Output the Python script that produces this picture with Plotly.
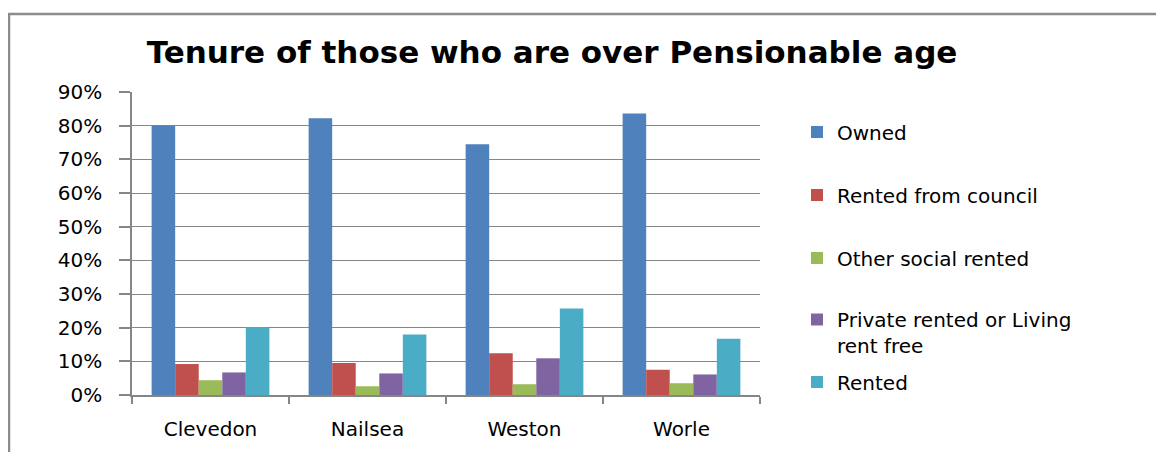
import plotly.graph_objects as go

categories = ["Clevedon", "Nailsea", "Weston", "Worle"]
series_names = ["Owned", "Rented from council", "Other social rented",
                "Private rented or Living<br>rent free", "Rented"]
owned = [0.800, 0.822, 0.745, 0.836]
council = [0.092, 0.095, 0.124, 0.075]
other_social = [0.044, 0.026, 0.032, 0.035]
private_rent = [0.067, 0.064, 0.109, 0.061]
rented = [0.201, 0.180, 0.257, 0.167]
y_ticks = [0, 0.1, 0.2, 0.3, 0.4, 0.5, 0.6, 0.7, 0.8, 0.9]

series_values = [owned, council, other_social, private_rent, rented]
colors = ["#4F81BD", "#C0504D", "#9BBB59", "#8064A2", "#4BACC6"]

W, H = 1164, 452
OFF = 8  # page body margin offset compensation
L, R, T, B = 132 - OFF, 760 - OFF, 92 - OFF, 395 - OFF

legend_centers = [132, 195, 258, 332.5, 382]
legend_keys = ["legend", "legend2", "legend3", "legend4", "legend5"]

fig = go.Figure()
for name, vals, col, lk in zip(series_names, series_values, colors, legend_keys):
    fig.add_trace(go.Bar(x=categories, y=vals, name=name, legend=lk,
                         marker=dict(color=col, line=dict(width=0))))

FONT = "DejaVu Sans"
legend_layout = {}
for lk, cy in zip(legend_keys, legend_centers):
    legend_layout[lk] = dict(
        x=(797 - OFF) / W, xref="container", xanchor="left",
        y=1 - (cy - OFF) / H, yref="container", yanchor="middle",
        font=dict(family=FONT, size=20, color="#000000"),
        bgcolor="rgba(0,0,0,0)", borderwidth=0, valign="top",
        itemwidth=30,
    )

fig.update_layout(
    width=W, height=H,
    margin=dict(l=L, r=W - R, t=T, b=H - B, pad=0),
    paper_bgcolor="white", plot_bgcolor="white",
    barmode="group", bargap=0.25, bargroupgap=0,
    showlegend=True,
    title=dict(text="<b>Tenure of those who are over Pensionable age</b>",
               x=(552 - OFF) / W, xref="container", xanchor="center",
               y=1 - (52 - OFF) / H, yref="container", yanchor="middle",
               font=dict(family=FONT, size=31, color="#000000")),
    font=dict(family=FONT, size=20, color="#000000"),
    xaxis=dict(showgrid=False, showline=True, linecolor="#868686", linewidth=1.5,
               ticks="outside", tickson="boundaries", ticklen=7, tickcolor="#868686",
               tickwidth=1.5, tickfont=dict(family=FONT, size=20, color="#000000"),
               ticklabelstandoff=15),
    yaxis=dict(range=[0, 0.9], tickvals=y_ticks, tickformat=".0%",
               showgrid=True, gridcolor="#868686", gridwidth=1,
               showline=True, linecolor="#868686", linewidth=1.5,
               ticks="outside", ticklen=11, tickcolor="#868686", tickwidth=1.5,
               tickfont=dict(family=FONT, size=20, color="#000000"),
               zeroline=False, ticklabelstandoff=13),
    shapes=[dict(type="rect", xref="paper", yref="paper",
                 x0=(9 - OFF - L) / (R - L), x1=(1185 - L) / (R - L),
                 y0=(B - 480) / (B - T), y1=(B - (14 - OFF)) / (B - T),
                 line=dict(color="#8C8C8C", width=2.5), fillcolor="rgba(0,0,0,0)",
                 layer="below")],
    **legend_layout,
)

fig.write_html("out.html")
